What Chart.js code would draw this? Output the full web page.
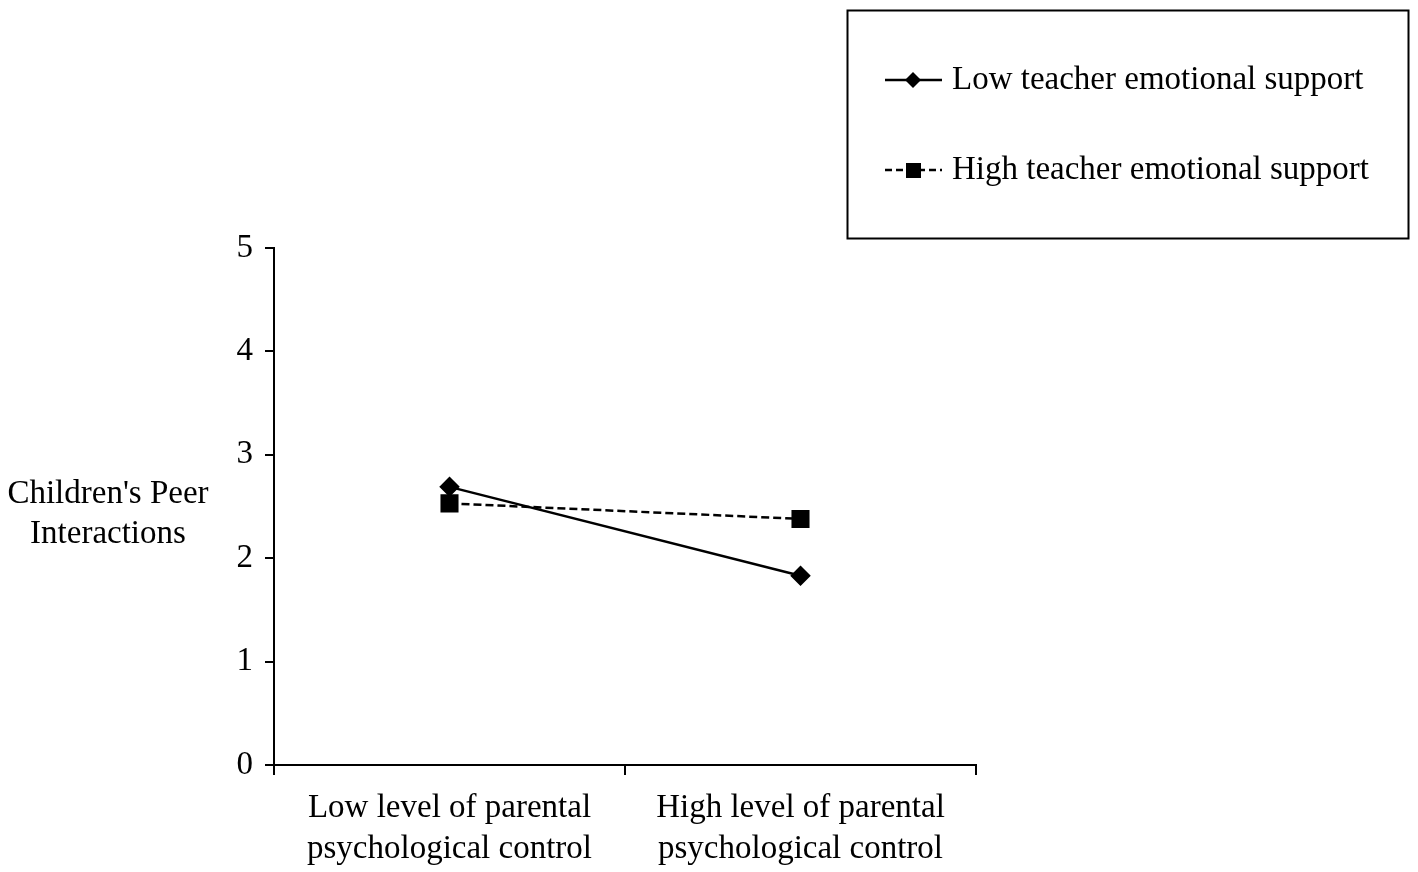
<!DOCTYPE html>
<html>
<head>
<meta charset="utf-8">
<script src="https://cdn.jsdelivr.net/npm/chart.js@4/dist/chart.umd.min.js"></script>
<style>
  html, body { margin: 0; padding: 0; background: #fff; }
  #wrap { width: 1418px; height: 872px; position: relative; }
</style>
</head>
<body>
<div id="wrap"><canvas id="c" width="1418" height="872"></canvas></div>
<script>
const categories = [
  ["Low level of parental", "psychological control"],
  ["High level of parental", "psychological control"]
];
const seriesNames = ["Low teacher emotional support", "High teacher emotional support"];
const lowSupport = [2.69, 1.83];
const highSupport = [2.53, 2.38];
const yTicks = [0, 1, 2, 3, 4, 5];
const yTitleLines = ["Children's Peer", "Interactions"];

const FONT = "'Liberation Serif', 'Times New Roman', serif";
const FS = 33;

const extras = {
  id: 'extras',
  afterDraw(chart) {
    const ctx = chart.ctx;
    ctx.save();
    ctx.fillStyle = '#000';
    ctx.font = FS + 'px ' + FONT;
    ctx.textAlign = 'center';
    ctx.textBaseline = 'middle';
    ctx.fillText(yTitleLines[0], 108, 494);
    ctx.fillText(yTitleLines[1], 108, 534);
    // Legend box
    ctx.lineWidth = 2;
    ctx.strokeStyle = '#000';
    ctx.strokeRect(847.5, 10.5, 561, 228);
    const rows = [80, 170];
    chart.data.datasets.forEach((ds, i) => {
      const y = rows[i];
      ctx.save();
      ctx.lineWidth = 2.5;
      ctx.setLineDash(ds.borderDash ? [7, 4] : []);
      ctx.beginPath();
      ctx.moveTo(885, y);
      ctx.lineTo(942, y);
      ctx.stroke();
      ctx.restore();
      ctx.fillStyle = '#000';
      ctx.beginPath();
      if (ds.pointStyle === 'rectRot') {
        const r = 8;
        ctx.moveTo(913, y - r); ctx.lineTo(913 + r, y); ctx.lineTo(913, y + r); ctx.lineTo(913 - r, y);
        ctx.closePath();
      } else {
        ctx.rect(906, y - 7, 15, 15);
      }
      ctx.fill();
      ctx.font = FS + 'px ' + FONT;
      ctx.textAlign = 'left';
      ctx.textBaseline = 'middle';
      ctx.fillText(ds.label, 952, y);
    });
    ctx.restore();
  }
};

new Chart(document.getElementById('c'), {
  type: 'line',
  data: {
    labels: categories,
    datasets: [
      {
        label: seriesNames[0],
        data: lowSupport,
        borderColor: '#000',
        backgroundColor: '#000',
        borderWidth: 2.5,
        pointStyle: 'rectRot',
        pointRadius: 8.5,
        pointHoverRadius: 8.5,
        fill: false,
        tension: 0
      },
      {
        label: seriesNames[1],
        data: highSupport,
        borderColor: '#000',
        backgroundColor: '#000',
        borderWidth: 2.5,
        borderDash: [8, 4],
        pointStyle: 'rect',
        pointRadius: 11,
        pointHoverRadius: 11,
        fill: false,
        tension: 0
      }
    ]
  },
  options: {
    responsive: false,
    animation: false,
    layout: { padding: { top: 248, right: 442, bottom: 0, left: 0 } },
    plugins: { legend: { display: false }, tooltip: { enabled: false } },
    scales: {
      x: {
        offset: true,
        grid: { offset: true, drawOnChartArea: false, tickLength: 10, color: '#000', lineWidth: 2 },
        border: { color: '#000', width: 2 },
        ticks: { color: '#000', font: { family: FONT, size: FS, lineHeight: 1.24 }, padding: 13, maxRotation: 0 },
        afterFit(scale) { scale.height = 107; }
      },
      y: {
        min: 0, max: 5,
        afterBuildTicks(scale) { scale.ticks = yTicks.map(v => ({ value: v })); },
        grid: { drawOnChartArea: false, tickLength: 9, color: '#000', lineWidth: 2 },
        border: { color: '#000', width: 2 },
        ticks: { color: '#000', font: { family: FONT, size: FS }, padding: 12 },
        afterFit(scale) { scale.width = 274; }
      }
    }
  },
  plugins: [extras]
});
</script>
</body>
</html>
